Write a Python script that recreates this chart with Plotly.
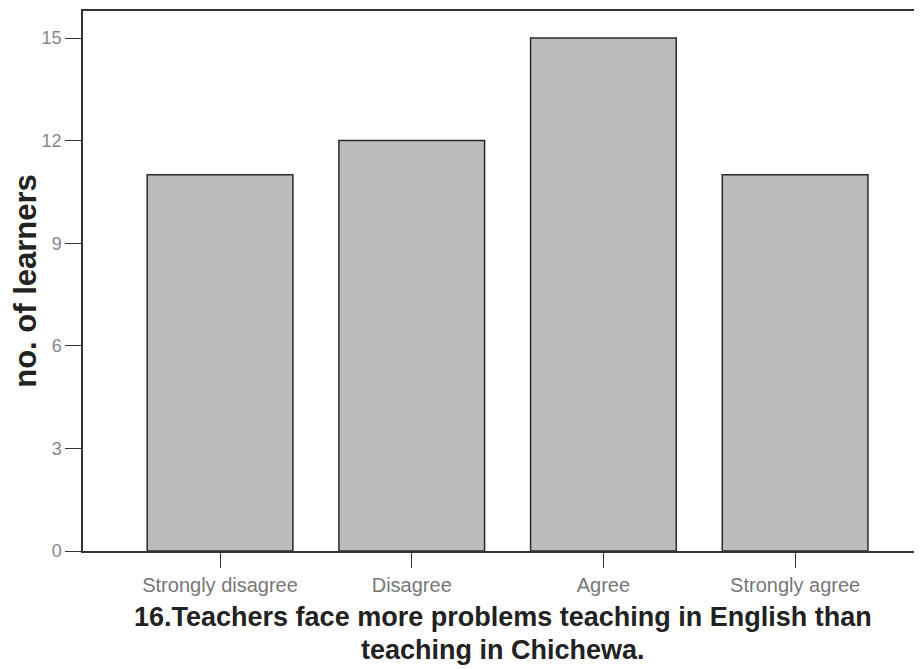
import plotly.graph_objects as go

categories = ["Strongly disagree", "Disagree", "Agree", "Strongly agree"]
learners = [11, 12, 15, 11]
y_ticks = [0, 3, 6, 9, 12, 15]

x_title_lines = [
    "16.Teachers face more problems teaching in English than",
    "teaching in Chichewa.",
]
y_title = "no. of learners"

FONT = "Liberation Sans, Arial, sans-serif"

fig = go.Figure(
    go.Bar(
        x=list(range(len(categories))),
        y=learners,
        marker=dict(color="#bcbcbc", line=dict(color="#2a2a2a", width=1.5)),
        width=0.76,
    )
)

# page body has an 8px margin, so the figure is sized/margined to compensate
fig.update_layout(
    width=914,
    height=661,
    margin=dict(l=75, r=0, t=3, b=118),
    paper_bgcolor="white",
    plot_bgcolor="white",
    showlegend=False,
    font=dict(family=FONT, color="#555"),
)

fig.update_xaxes(
    range=[-0.715, 3.662],
    tickmode="array",
    tickvals=list(range(len(categories))),
    ticktext=categories,
    ticks="outside",
    ticklen=15,
    tickwidth=1,
    tickcolor="#333",
    tickfont=dict(size=20, color="#777", family=FONT),
    ticklabelstandoff=0,
    showline=True,
    linecolor="#333",
    linewidth=1.5,
    mirror=True,
    showgrid=False,
    zeroline=False,
)

fig.update_yaxes(
    range=[0, 15.79],
    tickmode="array",
    tickvals=y_ticks,
    ticks="outside",
    ticklen=16,
    tickwidth=1,
    tickcolor="#333",
    tickfont=dict(size=18, color="#888", family=FONT),
    ticklabelstandoff=0,
    showline=True,
    linecolor="#333",
    linewidth=1.5,
    showgrid=False,
    zeroline=False,
    title=dict(text="<b>" + y_title + "</b>", font=dict(size=31, color="#222", family=FONT), standoff=4),
)

for line_text, ypos in zip(x_title_lines, [-0.1222, -0.1833]):
    fig.add_annotation(
        text="<b>" + line_text + "</b>",
        xref="paper",
        yref="paper",
        x=0.5,
        y=ypos,
        xanchor="center",
        yanchor="middle",
        showarrow=False,
        font=dict(size=27, color="#222", family=FONT),
    )

fig.write_html("out.html")
